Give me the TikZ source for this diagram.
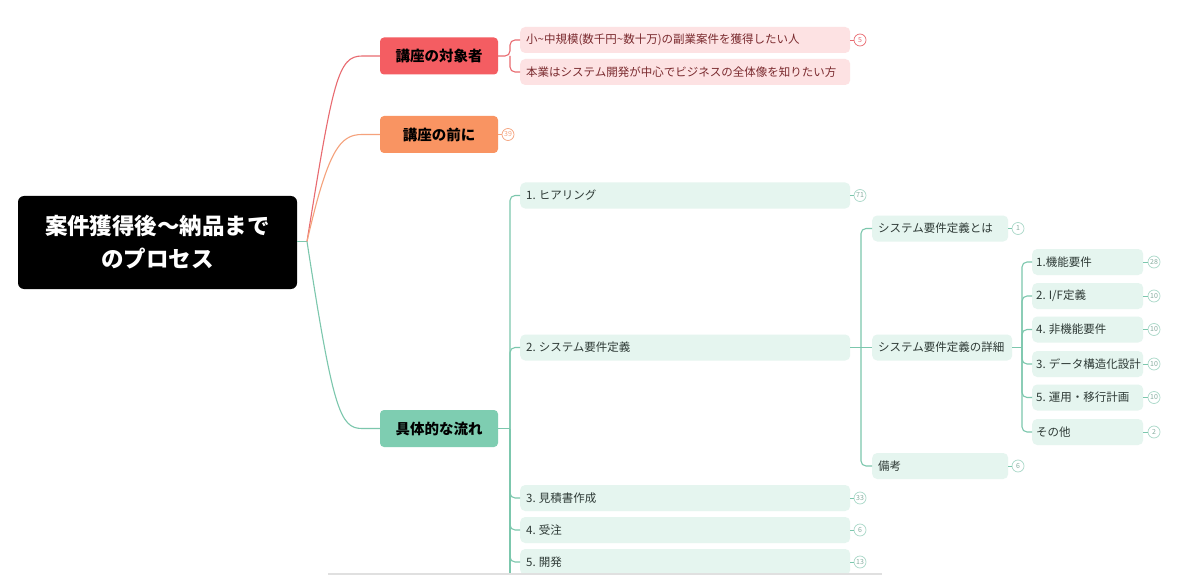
\documentclass[tikz,border=0pt]{standalone}
\usepackage{fontspec}
\setmainfont{Noto Sans CJK JP}
\definecolor{redbox}{HTML}{F45D62}
\definecolor{redline}{HTML}{E86A70}
\definecolor{pinkbox}{HTML}{FDE2E3}
\definecolor{pinktext}{HTML}{7A2A2E}
\definecolor{orangebox}{HTML}{F99462}
\definecolor{orangeline}{HTML}{F5A27C}
\definecolor{greenbox}{HTML}{7ECDB1}
\definecolor{greenline}{HTML}{7CC7AD}
\definecolor{mintbox}{HTML}{E5F5EF}
\definecolor{minttext}{HTML}{2E3A36}
\definecolor{badgegreen}{HTML}{A9D8C8}
\newcommand{\numgap}{\kern3pt}
\begin{document}
\begin{tikzpicture}[x=1pt,y=-1pt,
  lvlone/.style={rounded corners=4pt, minimum width=118pt, minimum height=37pt, inner sep=0pt,
    font=\fontsize{14.5}{16}\selectfont\bfseries, text=black},
  leaf/.style={rounded corners=5pt, anchor=west, minimum height=26pt, inner ysep=0pt,
    inner xsep=6pt, align=left, font=\fontsize{11.5}{13}\selectfont},
  pinkleaf/.style={leaf, fill=pinkbox, text=pinktext},
  mintleaf/.style={leaf, fill=mintbox, text=minttext},
  badge/.style={circle, draw, line width=0.7pt, minimum size=12pt, inner sep=0pt,
    font=\fontsize{7}{7}\selectfont},
  rbadge/.style={badge, draw=redline, text=redline},
  obadge/.style={badge, draw=orangeline, text=orangeline},
  gbadge/.style={badge, draw=badgegreen, text=badgegreen!80!black},
  rline/.style={draw=redline, line width=1.1pt},
  oline/.style={draw=orangeline, line width=1.1pt},
  gline/.style={draw=greenline, line width=1.1pt},
]
\useasboundingbox (0,0) rectangle (1200,575);
\fill[white] (0,0) rectangle (1200,575);

% root
\node[fill=black, rounded corners=6pt, minimum width=279pt, minimum height=93pt, inner sep=0pt,
  text=white, align=center, font=\fontsize{22.5}{33}\selectfont\bfseries] (root) at (157.5,242.5)
  {案件獲得後〜納品まで\\のプロセス};
\coordinate (rj) at (307,241.5);
\draw[gline] (root.east |- rj) -- (rj);

% level 1
\node[lvlone, fill=redbox] (b1) at (439,56) {講座の対象者};
\node[lvlone, fill=orangebox] (b2) at (439,134.5) {講座の前に};
\node[lvlone, fill=greenbox] (b3) at (439,428.5) {具体的な流れ};

\draw[rline] (rj) .. controls (333,80) and (338,56) .. (362,56) -- (b1.west);
\draw[oline] (rj) .. controls (328,150) and (340,134.5) .. (362,134.5) -- (b2.west);
\draw[gline] (rj) .. controls (333,410) and (340,428.5) .. (362,428.5) -- (b3.west);

% red children
\node[pinkleaf, text width=318pt] (p1) at (520,40) {小\textasciitilde 中規模(数千円\textasciitilde 数十万)の副業案件を獲得したい人};
\node[pinkleaf, text width=318pt] (p2) at (520,72) {本業はシステム開発が中心でビジネスの全体像を知りたい方};
\coordinate (j1) at (510,56);
\draw[rline, rounded corners=5pt] (b1.east) -- (j1) |- (p1.west);
\draw[rline, rounded corners=5pt] (j1) |- (p2.west);
\node[rbadge] (n1) at (860,40) {5};
\draw[rline, line width=0.7pt] (p1.east) -- (n1.west);

% orange badge
\node[obadge] (n2) at (508,134.5) {39};
\draw[oline, line width=0.7pt] (b2.east) -- (n2.west);

% green level 2
\node[mintleaf, text width=318pt] (g1) at (520,195.5) {1.\numgap ヒアリング};
\node[mintleaf, text width=318pt] (g2) at (520,347.5) {2.\numgap システム要件定義};
\node[mintleaf, text width=318pt] (g3) at (520,498) {3.\numgap 見積書作成};
\node[mintleaf, text width=318pt] (g4) at (520,530) {4.\numgap 受注};
\node[mintleaf, text width=318pt] (g5) at (520,562) {5.\numgap 開発};
\coordinate (j3) at (510,428.5);
\coordinate (jbot) at (510,575);
\draw[gline] (b3.east) -- (j3);
\draw[gline, rounded corners=5pt] (j3) |- (g1.west);
\draw[gline, rounded corners=5pt] (j3) |- (g2.west);
\draw[gline, rounded corners=5pt] (j3) |- (g3.west);
\draw[gline, rounded corners=5pt] (j3) |- (g4.west);
\draw[gline, rounded corners=5pt] (j3) |- (g5.west);
\draw[gline] (j3) -- (jbot);
\foreach \n/\y/\t in {a/195.5/71, c/498/33, d/530/6, e/562/13}{
  \node[gbadge] (m\n) at (860,\y) {\t};
}
\draw[gline, line width=0.7pt] (g1.east) -- (ma.west);
\draw[gline, line width=0.7pt] (g3.east) -- (mc.west);
\draw[gline, line width=0.7pt] (g4.east) -- (md.west);
\draw[gline, line width=0.7pt] (g5.east) -- (me.west);

% level 3
\node[mintleaf, text width=124pt] (h1) at (872,228.5) {システム要件定義とは};
\node[mintleaf, text width=128pt] (h2) at (872,347.5) {システム要件定義の詳細};
\node[mintleaf, text width=124pt] (h3) at (872,466) {備考};
\coordinate (j4) at (861,347.5);
\draw[gline] (g2.east) -- (j4);
\draw[gline, rounded corners=5pt] (j4) |- (h1.west);
\draw[gline] (j4) -- (h2.west);
\draw[gline, rounded corners=5pt] (j4) |- (h3.west);
\node[gbadge] (k1) at (1018,228.5) {1};
\node[gbadge] (k3) at (1018,466) {6};
\draw[gline, line width=0.7pt] (h1.east) -- (k1.west);
\draw[gline, line width=0.7pt] (h3.east) -- (k3.west);

% level 4
\coordinate (j5) at (1022,347.5);
\draw[gline] (h2.east) -- (j5);
\foreach \n/\y/\t/\b in {1/262/{1.機能要件}/28, 2/296/{2.\numgap I/F定義}/10, 3/329.5/{4.\numgap 非機能要件}/10,
  4/364/{3.\numgap データ構造化設計}/10, 5/397.5/{5.\numgap 運用・移行計画}/10, 6/432/{その他}/2}{
  \node[mintleaf, inner xsep=4pt, text width=103pt] (q\n) at (1032,\y) {\t};
  \draw[gline, rounded corners=5pt] (j5) |- (q\n.west);
  \node[gbadge] (s\n) at (1154,\y) {\b};
  \draw[gline, line width=0.7pt] (q\n.east) -- (s\n.west);
}

% bottom bar
\draw[draw=black!12, line width=3pt] (328,574) -- (882,574);
\end{tikzpicture}
\end{document}
